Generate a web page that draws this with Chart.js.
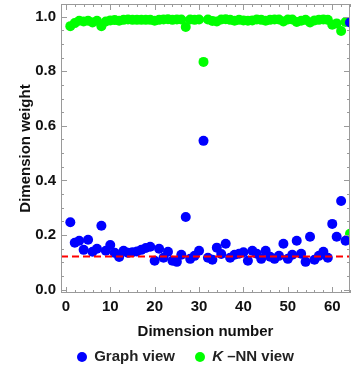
<!DOCTYPE html>
<html>
<head>
<meta charset="utf-8">
<script src="https://cdn.jsdelivr.net/npm/chart.js@4"></script>
<style>
  html, body { margin: 0; padding: 0; background: #fff; }
  #wrap { position: relative; width: 351px; height: 372px; }
  #legend { position: absolute; left: 0; top: 347px; width: 331px; padding-left: 20px; text-align: center;
    font: bold 15px "Liberation Sans", Arial, sans-serif; color: #222; }
  #legend span.dot { display: inline-block; width: 10px; height: 10px; border-radius: 50%;
    vertical-align: -1px; margin-right: 7px; }
  #legend span.item { margin: 0 8px; }
</style>
</head>
<body>
<div id="wrap">
  <canvas id="chart" width="351" height="372"></canvas>
  <div id="legend">
    <span class="item"><span class="dot" style="background:#0000ff"></span>Graph view</span>
    <span class="item"><span class="dot" style="background:#00ff00"></span><i>K</i> –NN view</span>
  </div>
</div>
<script>
const dims = [1,2,3,4,5,6,7,8,9,10,11,12,13,14,15,16,17,18,19,20,21,22,23,24,25,26,27,28,29,30,31,32,
  33,34,35,36,37,38,39,40,41,42,43,44,45,46,47,48,49,50,51,52,53,54,55,56,57,58,59,60,61,62,63,64];
const graphView = [0.247,0.172,0.179,0.146,0.183,0.139,0.150,0.234,0.143,0.164,0.135,0.120,0.143,0.135,0.137,0.140,
  0.146,0.153,0.157,0.106,0.150,0.117,0.139,0.106,0.102,0.128,0.266,0.113,0.124,0.143,0.545,0.117,
  0.110,0.154,0.131,0.168,0.117,0.128,0.132,0.137,0.106,0.143,0.132,0.113,0.143,0.121,0.113,0.124,
  0.168,0.113,0.128,0.179,0.132,0.102,0.194,0.110,0.124,0.139,0.117,0.241,0.194,0.325,0.179,0.978];
const knnView = [0.965,0.976,0.985,0.982,0.985,0.978,0.985,0.965,0.982,0.986,0.987,0.985,0.988,0.989,0.988,0.988,
  0.988,0.988,0.988,0.985,0.988,0.989,0.990,0.988,0.989,0.989,0.962,0.989,0.988,0.989,0.834,0.989,
  0.984,0.982,0.989,0.990,0.988,0.985,0.988,0.986,0.985,0.986,0.989,0.988,0.985,0.988,0.989,0.989,
  0.982,0.989,0.989,0.980,0.985,0.988,0.978,0.986,0.988,0.989,0.988,0.970,0.975,0.947,0.980,0.205];
const threshold = 0.122;
const xTicks = [0, 10, 20, 30, 40, 50, 60];
const yTicks = [0, 0.2, 0.4, 0.6, 0.8, 1.0];

const xMin = -1.1, xMax = 64;
const yMin = -0.012, yMax = 1.046;
const font = { family: '"Liberation Sans", Arial, sans-serif', size: 15, weight: 'bold' };

// frame with inward ticks, Mathematica style
const framePlugin = {
  id: 'frame',
  afterDraw(chart) {
    const { ctx, chartArea: a, scales: { x, y } } = chart;
    ctx.save();
    ctx.strokeStyle = '#9a9a9a';
    ctx.lineWidth = 1;
    ctx.strokeRect(a.left + 0.5, a.top + 0.5, a.right - a.left - 1, a.bottom - a.top - 1);
    ctx.beginPath();
    for (let v = 0; v <= xMax; v += 2) {
      const px = Math.round(x.getPixelForValue(v)) + 0.5;
      const len = v % 10 === 0 ? 6 : 3;
      ctx.moveTo(px, a.bottom); ctx.lineTo(px, a.bottom - len);
      ctx.moveTo(px, a.top); ctx.lineTo(px, a.top + len);
    }
    for (let i = 0; i <= 20; i++) {
      const v = i * 0.05;
      const py = Math.round(y.getPixelForValue(v)) + 0.5;
      const len = i % 4 === 0 ? 6 : 3;
      ctx.moveTo(a.left, py); ctx.lineTo(a.left + len, py);
      ctx.moveTo(a.right, py); ctx.lineTo(a.right - len, py);
    }
    ctx.stroke();
    ctx.restore();
  }
};

new Chart('chart', {
  type: 'scatter',
  data: {
    datasets: [
      {
        type: 'line',
        data: [{ x: xMin, y: threshold }, { x: xMax, y: threshold }],
        borderColor: '#ff0000',
        borderWidth: 2,
        borderDash: [7, 4],
        pointRadius: 0,
        order: 0
      },
      {
        label: 'Graph view',
        data: dims.map((d, i) => ({ x: d, y: graphView[i] })),
        backgroundColor: '#0000ff',
        pointRadius: 5,
        pointBorderWidth: 0,
        order: 1
      },
      {
        label: 'K-NN view',
        data: dims.map((d, i) => ({ x: d, y: knnView[i] })),
        backgroundColor: '#00ff00',
        pointRadius: 5,
        pointBorderWidth: 0,
        order: 2
      }
    ]
  },
  options: {
    responsive: false,
    animation: false,
    layout: { autoPadding: false, padding: { top: 4, right: 1, bottom: 27, left: 0 } },
    plugins: { legend: { display: false }, tooltip: { enabled: false } },
    scales: {
      x: {
        type: 'linear', min: xMin, max: xMax,
        afterBuildTicks: s => { s.ticks = xTicks.map(v => ({ value: v })); },
        grid: { display: false, drawTicks: false },
        border: { display: false },
        ticks: { color: '#111', font, padding: 5, maxRotation: 0 },
        title: { display: true, text: 'Dimension number', color: '#111', font, padding: { top: 7 } },
        afterFit: s => { s.height = 52; s.paddingLeft = 0; s.paddingRight = 0; }
      },
      y: {
        type: 'linear', min: yMin, max: yMax,
        afterBuildTicks: s => { s.ticks = yTicks.map(v => ({ value: v })); },
        grid: { display: false, drawTicks: false },
        border: { display: false },
        ticks: { color: '#111', font, padding: 5, callback: v => v.toFixed(1) },
        title: { display: true, text: 'Dimension weight', color: '#111', font, padding: { top: 17, bottom: 0 } },
        afterFit: s => { s.width = 61; s.paddingTop = 0; s.paddingBottom = 0; }
      }
    }
  },
  plugins: [framePlugin]
});
</script>
</body>
</html>
